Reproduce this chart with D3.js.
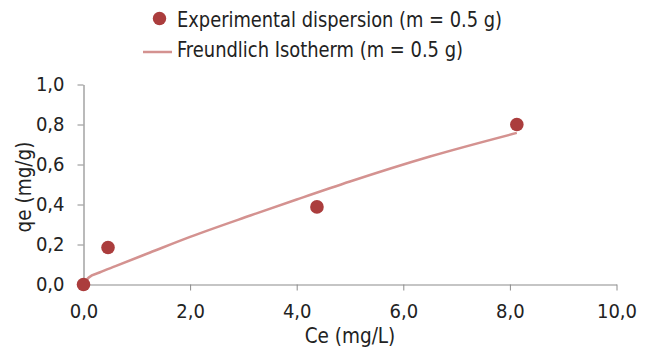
<!DOCTYPE html>
<html lang="en">
<head>
<meta charset="UTF-8">
<title>Freundlich isotherm</title>
<script src="https://cdn.jsdelivr.net/npm/d3@7"></script>
<style>
    body { margin: 0; background: #fff; }
    text { font-family: "DejaVu Sans Condensed", "Liberation Sans", sans-serif; fill: #222; }
    .tick text { font-size: 20px; }
    .axis path, .axis line { stroke: #8c8c8c; }
</style>
</head>
<body>
<svg width="648" height="351"></svg>
<script>
    // experimental points
    var expCe = [0, 0.46, 4.38, 8.13];
    var expQe = [0, 0.185, 0.388, 0.80];

    // fitted curve
    var fitCe = [0, 0.1, 0.3, 0.6, 1.25, 2.0, 3.13, 4.0, 5.0, 6.5, 8.13];
    var fitQe = [0, 0.035, 0.06, 0.092, 0.16, 0.238, 0.345, 0.425, 0.515, 0.64, 0.758];

    var xTicks = [0, 2, 4, 6, 8, 10];
    var yTicks = [0, 0.2, 0.4, 0.6, 0.8, 1.0];

    var legendLabels = ["Experimental dispersion (m = 0.5 g)", "Freundlich Isotherm (m = 0.5 g)"];

    var dotColor = "#ab3d3d";
    var lineColor = "#d49290";

    var svg = d3.select("svg");
    var margin = {left: 83.5, right: 648 - 616.5, top: 84.5, bottom: 351 - 284.5};
    var width = 648 - margin.left - margin.right;
    var height = 351 - margin.top - margin.bottom;

    var g = svg.append("g").attr("transform", "translate(" + margin.left + "," + margin.top + ")");

    var x = d3.scaleLinear().domain([0, 10]).range([0, width]);
    var y = d3.scaleLinear().domain([0, 1]).range([height, 0]);
    var fmt = function(d) { return d3.format(".1f")(d).replace(".", ","); };

    g.append("g")
        .attr("class", "axis")
        .attr("transform", "translate(0," + height + ")")
        .call(d3.axisBottom(x).tickValues(xTicks).tickFormat(fmt).tickSize(6).tickSizeOuter(0).tickPadding(13));

    g.append("g")
        .attr("class", "axis")
        .call(d3.axisLeft(y).tickValues(yTicks).tickFormat(fmt).tickSize(6).tickSizeOuter(0).tickPadding(13));

    g.selectAll(".axis .domain").attr("stroke-width", 1.2);

    // curve
    var fit = fitCe.map(function(c, i) { return [c, fitQe[i]]; });
    g.append("path")
        .datum(fit)
        .attr("fill", "none")
        .attr("stroke", lineColor)
        .attr("stroke-width", 2.5)
        .attr("d", d3.line()
            .x(function(d) { return x(d[0]); })
            .y(function(d) { return y(d[1]); })
            .curve(d3.curveMonotoneX));

    // points
    g.selectAll(".dot")
        .data(expCe.map(function(c, i) { return [c, expQe[i]]; }))
        .enter()
        .append("circle")
        .attr("class", "dot")
        .attr("cx", function(d) { return x(d[0]); })
        .attr("cy", function(d) { return y(d[1]); })
        .attr("r", 6.8)
        .attr("fill", dotColor);

    // axis titles
    svg.append("text")
        .attr("x", 350)
        .attr("y", 343)
        .attr("text-anchor", "middle")
        .style("font-size", "20.5px")
        .text("Ce (mg/L)");

    svg.append("text")
        .attr("transform", "translate(31,187) rotate(-90)")
        .attr("text-anchor", "middle")
        .style("font-size", "20.5px")
        .text("qe (mg/g)");

    // legend
    var lg = svg.append("g");
    lg.append("circle").attr("cx", 159.5).attr("cy", 18.5).attr("r", 6.7).attr("fill", dotColor);
    lg.append("line").attr("x1", 143).attr("x2", 172).attr("y1", 52).attr("y2", 52)
        .attr("stroke", lineColor).attr("stroke-width", 2.5);
    var legendW = [325, 286];
    lg.selectAll(".lt")
        .data(legendLabels)
        .enter()
        .append("text")
        .attr("class", "lt")
        .attr("x", 177)
        .attr("y", function(d, i) { return 26.5 + i * 30; })
        .attr("textLength", function(d, i) { return legendW[i]; })
        .attr("lengthAdjust", "spacingAndGlyphs")
        .style("font-size", "21px")
        .text(function(d) { return d; });
</script>
</body>
</html>
